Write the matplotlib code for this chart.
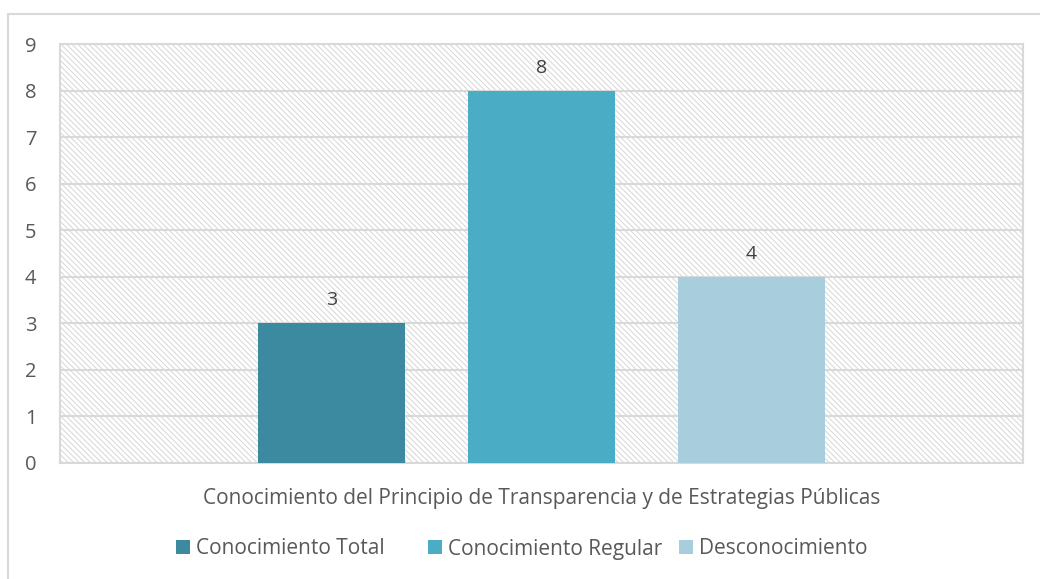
import matplotlib.pyplot as plt
from matplotlib.patches import Rectangle
import numpy as np

plt.rcParams['font.family'] = ['Open Sans', 'DejaVu Sans']
plt.rcParams['hatch.linewidth'] = 0.7

# datos
categoria = "Conocimiento del Principio de Transparencia y de Estrategias Públicas"
series = ["Conocimiento Total", "Conocimiento Regular", "Desconocimiento"]
valores = [3, 8, 4]
colores = ["#3B8AA0", "#4BACC6", "#A8CEDD"]

fig = plt.figure(figsize=(10.4, 5.79), dpi=100)
ax = fig.add_axes([60 / 1040, 116 / 579, 963 / 1040, 419 / 579])

# fondo rayado del area de trazado
ax.add_patch(Rectangle((0, 0), 1, 1, transform=ax.transAxes, facecolor='white',
                       edgecolor='#D6D6D6', linewidth=0, hatch='\\\\\\\\\\\\', zorder=0))

ancho = 147 / 963
paso = 210 / 963
offsets = (np.arange(len(series)) - 1) * paso
barras = []
for i, (nombre, v, c) in enumerate(zip(series, valores, colores)):
    b = ax.bar(offsets[i], v, width=ancho, color=c, label=nombre, zorder=3)
    barras.append(b)
    ax.text(offsets[i], v + 0.3, str(v), ha='center', va='bottom',
            fontsize=14, color='#404040', zorder=4)

ax.set_xlim(-0.5, 0.5)
ax.set_ylim(0, 9)
ax.set_yticks(range(0, 10))
ax.set_xticks([])
ax.yaxis.grid(True, color='#D9D9D9', linewidth=1.5, zorder=1)
ax.set_axisbelow(True)
for s in ax.spines.values():
    s.set_color('#D9D9D9')
    s.set_linewidth(1.5)
ax.tick_params(axis='y', length=0, labelsize=14.5, labelcolor='#595959', pad=17)
ax.set_xlabel(categoria, fontsize=15, color='#595959', labelpad=18)

# leyenda: celdas de igual ancho como en Excel
x_leyenda = [176, 428, 679]
for b, nombre, xl in zip(barras, series, x_leyenda):
    fig.legend([b], [nombre], loc='center left',
               bbox_to_anchor=(xl / 1040, 1 - 549 / 579), frameon=False,
               fontsize=15, labelcolor='#595959', handlelength=0.67,
               handleheight=0.67, handletextpad=0.3, borderpad=0,
               borderaxespad=0)

# borde exterior del grafico
fig.add_artist(Rectangle((7.5 / 1040, -0.1), 1.2, 1 - 13.5 / 579 + 0.1,
                         transform=fig.transFigure, facecolor='none',
                         edgecolor='#D9D9D9', linewidth=1.5))

fig.savefig('out.png', dpi=100)
